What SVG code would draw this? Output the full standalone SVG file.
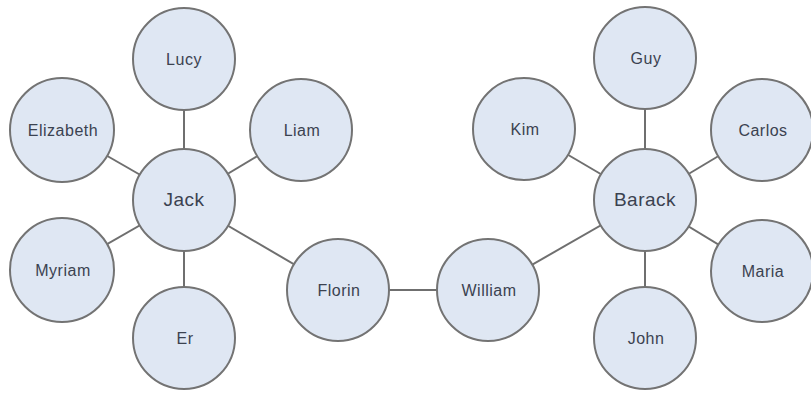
<svg xmlns="http://www.w3.org/2000/svg" width="811" height="394" viewBox="0 0 811 394">
<style>
.n circle{fill:#dfe7f3;stroke:#737373;stroke-width:2}
.n text{font-family:"Liberation Sans",Arial,sans-serif;font-size:16px;fill:#3b4250;text-anchor:middle;letter-spacing:0.5px}
.n.hub text{font-size:19px}
#edges line{stroke:#6f6f6f;stroke-width:2}
</style>
<rect width="811" height="394" fill="#ffffff"/>
<g id="edges">
<line x1="184" y1="200" x2="184" y2="59"/>
<line x1="184" y1="200" x2="62" y2="130"/>
<line x1="184" y1="200" x2="301" y2="130"/>
<line x1="184" y1="200" x2="62" y2="270"/>
<line x1="184" y1="200" x2="184" y2="338"/>
<line x1="184" y1="200" x2="338" y2="290"/>
<line x1="338" y1="290" x2="488" y2="290"/>
<line x1="488" y1="290" x2="645" y2="200"/>
<line x1="645" y1="200" x2="524" y2="129"/>
<line x1="645" y1="200" x2="645" y2="58"/>
<line x1="645" y1="200" x2="762" y2="130"/>
<line x1="645" y1="200" x2="762" y2="271"/>
<line x1="645" y1="200" x2="645" y2="338"/>
</g>
<g id="lucy" class="n"><circle cx="184" cy="59" r="51"/><text x="184" y="65">Lucy</text></g>
<g id="elizabeth" class="n"><circle cx="62" cy="130" r="52"/><text x="63" y="136">Elizabeth</text></g>
<g id="liam" class="n"><circle cx="301" cy="130" r="51"/><text x="302" y="136">Liam</text></g>
<g id="jack" class="n hub"><circle cx="184" cy="200" r="51"/><text x="184" y="206">Jack</text></g>
<g id="myriam" class="n"><circle cx="62" cy="270" r="52"/><text x="63" y="276">Myriam</text></g>
<g id="er" class="n"><circle cx="184" cy="338" r="51"/><text x="185" y="344">Er</text></g>
<g id="florin" class="n"><circle cx="338" cy="290" r="51"/><text x="339" y="296">Florin</text></g>
<g id="william" class="n"><circle cx="488" cy="290" r="51"/><text x="489" y="296">William</text></g>
<g id="kim" class="n"><circle cx="524" cy="129" r="51"/><text x="525" y="135">Kim</text></g>
<g id="guy" class="n"><circle cx="645" cy="58" r="51"/><text x="646" y="64">Guy</text></g>
<g id="carlos" class="n"><circle cx="762" cy="130" r="51"/><text x="763" y="136">Carlos</text></g>
<g id="barack" class="n hub"><circle cx="645" cy="200" r="51"/><text x="645" y="206">Barack</text></g>
<g id="maria" class="n"><circle cx="762" cy="271" r="51"/><text x="763" y="277">Maria</text></g>
<g id="john" class="n"><circle cx="645" cy="338" r="51"/><text x="646" y="344">John</text></g>
</svg>
